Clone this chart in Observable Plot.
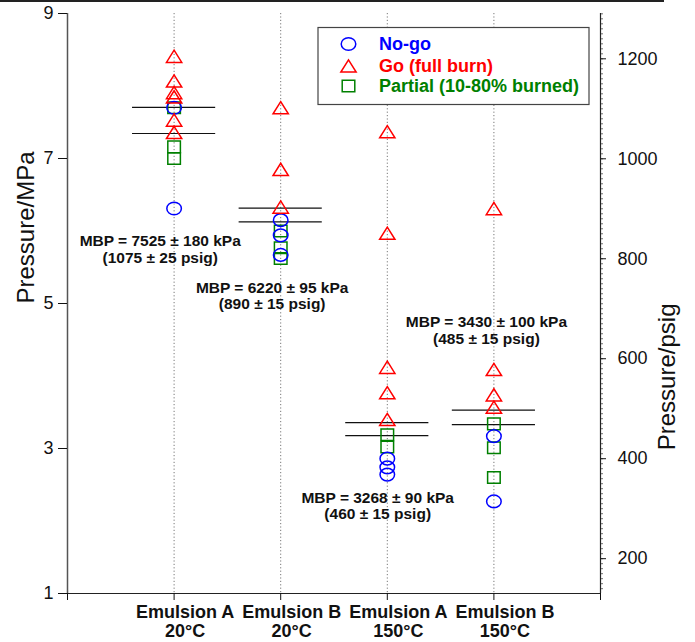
<!DOCTYPE html>
<html><head><meta charset="utf-8">
<script src="https://cdn.jsdelivr.net/npm/d3@7"></script>
<script src="https://cdn.jsdelivr.net/npm/@observablehq/plot@0.6"></script>
<style>
body{margin:0;background:#fff;}
#wrap{position:relative;width:695px;height:642px;font-family:"Liberation Sans",Arial,sans-serif;}
#topline{position:absolute;left:0;top:0;width:664px;height:1.5px;background:#222;}
#legend{position:absolute;left:0;top:0;pointer-events:none;}
</style></head><body><div id="wrap"><div id="topline"></div></div>
<script>
// ---- data ----
const categories = ["Emulsion A\n20°C", "Emulsion B\n20°C", "Emulsion A\n150°C", "Emulsion B\n150°C"];
const noGoMPa    = [[7.70, 6.31], [6.15, 5.94, 5.67], [2.86, 2.74, 2.64], [3.17, 2.27]];
const goMPa      = [[8.41, 8.07, 7.91, 7.85, 7.53, 7.36], [7.70, 6.85, 6.33], [7.37, 5.97, 4.12, 3.77, 3.40], [6.31, 4.09, 3.74, 3.57]];
const partialMPa = [[7.70, 7.16, 7.00], [6.00, 5.77, 5.62], [3.19, 3.02], [3.34, 3.01, 2.60]];
const mbpKPa     = [7525, 6220, 3268, 3430];
const mbpErrKPa  = [180, 95, 90, 100];
const mbpPsig    = [1075, 890, 460, 485];
const mbpErrPsig = [25, 15, 15, 15];
const labelX     = [0.87, 1.92, 2.91, 3.93];   // annotation anchor (category units)
const labelY     = [5.75, 5.11, 2.21, 4.63];   // annotation anchor (MPa)
const mpaTicks   = [1, 3, 5, 7, 9];
const psigTicks  = [200, 400, 600, 800, 1000, 1200];
const legendItems = ["No-go", "Go (full burn)", "Partial (10-80% burned)"];

// ---- helpers ----
const PSI_PER_MPA = 145.038, ATM_PSI = 14.696;
const toMPa = psig => (psig + ATM_PSI) / PSI_PER_MPA;
const toPsig = mpa => mpa * PSI_PER_MPA - ATM_PSI;
const psigMinor = d3.range(140, 1291, 10);

const BLUE = "#0000ff", RED = "#ff0000", GREEN = "#008000";

const ellipseSym = {draw(ctx, size) {
  const r = Math.sqrt(size / Math.PI), rx = r * 1.07, ry = r * 0.93, k = 0.5523;
  ctx.moveTo(rx, 0);
  ctx.bezierCurveTo(rx, ry * k, rx * k, ry, 0, ry);
  ctx.bezierCurveTo(-rx * k, ry, -rx, ry * k, -rx, 0);
  ctx.bezierCurveTo(-rx, -ry * k, -rx * k, -ry, 0, -ry);
  ctx.bezierCurveTo(rx * k, -ry, rx, -ry * k, rx, 0);
  ctx.closePath();
}};
const triSym = {draw(ctx, size) {
  const r = Math.sqrt(size / Math.PI), w = 2.25 * r, h = 1.8 * r;
  ctx.moveTo(0, -h / 2); ctx.lineTo(w / 2, h / 2); ctx.lineTo(-w / 2, h / 2); ctx.closePath();
}};
const sqSym = {draw(ctx, size) {
  const r = Math.sqrt(size / Math.PI), w = 1.85 * r, h = 1.7 * r;
  ctx.rect(-w / 2, -h / 2, w, h);
}};

const pts = arr => arr.flatMap((vals, i) => vals.map(v => ({cat: i + 1, mpa: v})));
const mbpLines = mbpKPa.flatMap((k, i) => [
  {x1: i + 1 - 0.39, x2: i + 1 + 0.39, y: (k + mbpErrKPa[i]) / 1000},
  {x1: i + 1 - 0.39, x2: i + 1 + 0.39, y: (k - mbpErrKPa[i]) / 1000}
]);
const labels = mbpKPa.map((k, i) => ({
  x: labelX[i], y: labelY[i],
  text: `MBP = ${k} ± ${mbpErrKPa[i]} kPa\n(${mbpPsig[i]} ± ${mbpErrPsig[i]} psig)`
}));

const R = 6.8;
const plot = Plot.plot({
  width: 695, height: 642,
  marginLeft: 67, marginRight: 95, marginTop: 13, marginBottom: 49,
  style: {fontFamily: "'Liberation Sans', Arial, sans-serif", background: "transparent", color: "#111", overflow: "visible"},
  x: {domain: [0, 5], axis: null},
  y: {domain: [1, 9], axis: null},
  marks: [
    Plot.ruleX([1, 2, 3, 4], {stroke: "#777", strokeDasharray: "1.2,2.2", strokeWidth: 1}),
    Plot.ruleX([0], {stroke: "#555", strokeWidth: 1.5}),
    Plot.ruleX([5], {stroke: "#222", strokeWidth: 1.2}),
    Plot.ruleY([1], {stroke: "#222", strokeWidth: 1.2}),
    Plot.axisY(mpaTicks, {anchor: "left", tickSize: 9, tickPadding: 5, fontSize: 18, label: null, tickFormat: d => String(d)}),
    Plot.axisY(psigMinor.map(toMPa), {anchor: "right", tickSize: 2, tickFormat: () => "", label: null, strokeOpacity: 0.6}),
    Plot.axisY(psigTicks.map(toMPa), {anchor: "right", tickSize: 5, tickPadding: 12, fontSize: 18, label: null, tickFormat: d => String(Math.round(toPsig(d)))}),
    Plot.axisX([0, 1, 2, 3, 4, 5], {anchor: "bottom", tickSize: 7, tickFormat: () => "", label: null}),
    Plot.text(categories, {x: (d, i) => i + 1, frameAnchor: "bottom", lineAnchor: "top", dx: 11, dy: 10, fontSize: 18, fontWeight: "bold", lineHeight: 1.1, fill: "#111"}),
    Plot.text(["Pressure/MPa"], {frameAnchor: "left", rotate: -90, dx: -41.6, fontSize: 24, fill: "#111"}),
    Plot.text(["Pressure/psig"], {frameAnchor: "right", rotate: -90, dx: 66.4, fontSize: 24, fill: "#111"}),
    Plot.ruleY(mbpLines, {x1: "x1", x2: "x2", y: "y", stroke: "#111", strokeWidth: 1.2}),
    Plot.text(labels, {x: "x", y: "y", text: "text", fontSize: 15.5, fontWeight: "bold", lineHeight: 1.07, fill: "#111"}),
    Plot.dot(pts(partialMPa), {x: "cat", y: "mpa", symbol: sqSym, r: R, stroke: GREEN, strokeWidth: 1.5, fill: "none"}),
    Plot.dot(pts(noGoMPa), {x: "cat", y: "mpa", symbol: ellipseSym, r: R, stroke: BLUE, strokeWidth: 1.5, fill: "none"}),
    Plot.dot(pts(goMPa), {x: "cat", y: "mpa", symbol: triSym, r: R, stroke: RED, strokeWidth: 1.5, fill: "none"})
  ]
});
const wrap = document.getElementById("wrap");
wrap.insertBefore(plot, wrap.firstChild);

// ---- legend (inside the plot area, top right) ----
const leg = d3.select(wrap).append("svg").attr("id", "legend").attr("width", 695).attr("height", 642);
leg.append("rect").attr("x", 318).attr("y", 27.5).attr("width", 271).attr("height", 77)
  .attr("fill", "white").attr("stroke", "#444").attr("stroke-width", 1.2);
const syms = [ellipseSym, triSym, sqSym], cols = [BLUE, RED, GREEN], rowY = [44, 66, 86];
legendItems.forEach((t, i) => {
  leg.append("path").attr("transform", `translate(348.5,${rowY[i]})`)
    .attr("d", d3.symbol().type(syms[i]).size(Math.PI * R * R)())
    .attr("fill", "none").attr("stroke", cols[i]).attr("stroke-width", 1.5);
  leg.append("text").attr("x", 379).attr("y", rowY[i]).attr("dy", "0.36em")
    .attr("font-family", "'Liberation Sans', Arial, sans-serif").attr("font-weight", "bold").attr("font-size", 18)
    .attr("fill", cols[i]).text(t);
});
</script></body></html>
